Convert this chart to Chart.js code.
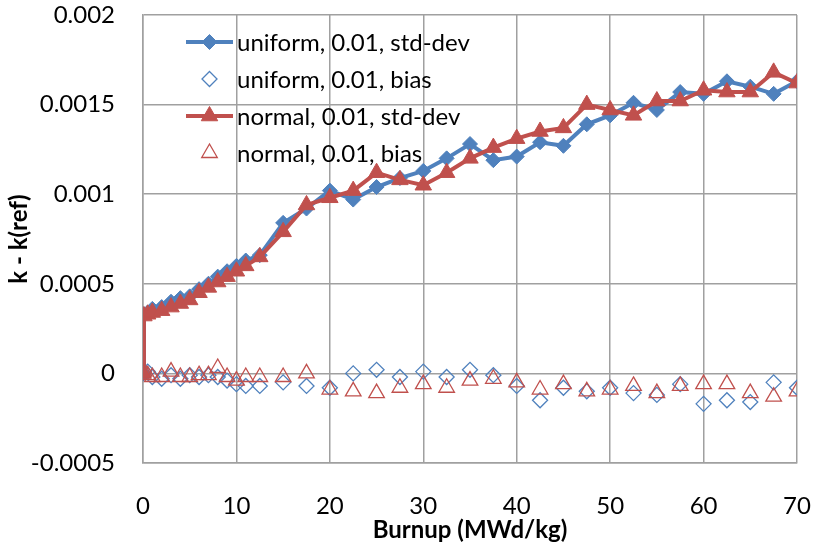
<!DOCTYPE html>
<html lang="en">
<head>
<meta charset="UTF-8" />
<title>k - k(ref) vs Burnup</title>
<script src="https://cdn.jsdelivr.net/npm/chart.js@4.4.1/dist/chart.umd.min.js"></script>
<style>
  html, body { margin: 0; padding: 0; background: #fff; }
  #wrap { width: 813px; height: 554px; }
</style>
</head>
<body>
<div id="wrap"><canvas id="chart" width="813" height="554"></canvas></div>
<script>
  // burnup steps (MWd/kg)
  const burnup = [0, 0.1, 0.5, 1, 2, 3, 4, 5, 6, 7, 8, 9, 10, 11, 12.5, 15, 17.5, 20, 22.5, 25,
    27.5, 30, 32.5, 35, 37.5, 40, 42.5, 45, 47.5, 50, 52.5, 55, 57.5, 60, 62.5, 65, 67.5, 70];

  const uniformStd = [0, 0.00033, 0.00034, 0.00036, 0.00037, 0.0004, 0.00042, 0.00043, 0.00047, 0.0005,
    0.00054, 0.00057, 0.0006, 0.00063, 0.00066, 0.00084, 0.00092, 0.00102, 0.00097, 0.00104,
    0.00109, 0.00113, 0.0012, 0.00128, 0.00119, 0.00121, 0.00129, 0.00127, 0.00139, 0.00144,
    0.00151, 0.00147, 0.00157, 0.00156, 0.00163, 0.0016, 0.00156, 0.00163];
  const uniformBias = [0, 0.00001, 0.00001, -0.00002, -0.00003, -0.00001, -0.00003, -0.00001, -0.00002, -0.00001,
    -0.00002, -0.00004, -0.00006, -0.00007, -0.00007, -0.00005, -0.00007, -0.00008, 0, 0.00002,
    -0.00002, 0.00001, -0.00002, 0.00002, -0.00001, -0.00007, -0.00015, -0.00008, -0.0001, -0.00008,
    -0.00011, -0.00012, -0.00006, -0.00017, -0.00015, -0.00016, -0.00005, -0.00008];
  const normalStd = [0, 0.00032, 0.00033, 0.00034, 0.00035, 0.00037, 0.00039, 0.00041, 0.00045, 0.00048,
    0.00051, 0.00054, 0.00057, 0.0006, 0.00065, 0.00079, 0.00094, 0.00098, 0.00102, 0.00112,
    0.00108, 0.00105, 0.00112, 0.0012, 0.00126, 0.00131, 0.00135, 0.00137, 0.0015, 0.00147,
    0.00144, 0.00152, 0.00152, 0.00158, 0.00157, 0.00157, 0.00168, 0.00162];
  const normalBias = [0, 0.00001, -0.00001, -0.00002, -0.00002, 0.00001, -0.00002, -0.00002, -0.00001, -0.00001,
    0.00003, -0.00002, -0.00004, -0.00002, -0.00002, -0.00002, 0, -0.00009, -0.0001, -0.00011,
    -0.00008, -0.00006, -0.00008, -0.00004, -0.00003, -0.00005, -0.00009, -0.00006, -0.0001, -0.00009,
    -0.00007, -0.00011, -0.00007, -0.00006, -0.00006, -0.00011, -0.00013, -0.0001];

  const seriesLabels = ['uniform, 0.01, std-dev', 'uniform, 0.01, bias', 'normal, 0.01, std-dev', 'normal, 0.01, bias'];

  const BLUE = '#4f81bd';
  const RED = '#c0504d';
  const GRID = '#a0a0a0';
  const FONT = 'Lato, "Open Sans", sans-serif';
  const FSIZE = 24;

  function pts(ys) {
    return burnup.map((x, i) => ({ x: x, y: ys[i] }));
  }

  function markerPath(ctx, style, x, y, r) {
    ctx.beginPath();
    if (style === 'rectRot') {
      ctx.moveTo(x, y - r); ctx.lineTo(x + r, y); ctx.lineTo(x, y + r); ctx.lineTo(x - r, y);
    } else {
      ctx.moveTo(x, y - r); ctx.lineTo(x + r * 0.866, y + r / 2); ctx.lineTo(x - r * 0.866, y + r / 2);
    }
    ctx.closePath();
  }

  // legend sits inside the plot, top-left, no box
  const insideLegend = {
    id: 'insideLegend',
    afterDatasetsDraw(chart) {
      const ctx = chart.ctx;
      const area = chart.chartArea;
      const x0 = area.left + 43;
      ctx.save();
      ctx.font = FSIZE + 'px ' + FONT;
      ctx.textBaseline = 'middle';
      chart.data.datasets.forEach((ds, i) => {
        const y = area.top + 27 + i * 37;
        if (ds.showLine !== false) {
          ctx.strokeStyle = ds.borderColor;
          ctx.lineWidth = ds.borderWidth;
          ctx.beginPath(); ctx.moveTo(x0, y); ctx.lineTo(x0 + 47, y); ctx.stroke();
        }
        markerPath(ctx, ds.pointStyle, x0 + 23.5, y, ds.pointRadius);
        if (ds.pointBackgroundColor !== 'rgba(0,0,0,0)') {
          ctx.fillStyle = ds.pointBackgroundColor; ctx.fill();
        }
        ctx.strokeStyle = ds.pointBorderColor;
        ctx.lineWidth = ds.pointBorderWidth;
        ctx.stroke();
        ctx.fillStyle = '#000';
        ctx.fillText(ds.label, x0 + 51, y + 1);
      });
      ctx.restore();
    }
  };

  new Chart(document.getElementById('chart'), {
    type: 'line',
    data: {
      datasets: [
        {
          label: seriesLabels[0], data: pts(uniformStd), order: 2,
          borderColor: BLUE, borderWidth: 4, tension: 0,
          pointStyle: 'rectRot', pointRadius: 7.5, pointBackgroundColor: BLUE,
          pointBorderColor: BLUE, pointBorderWidth: 1
        },
        {
          label: seriesLabels[1], data: pts(uniformBias), order: 3, showLine: false,
          borderColor: BLUE, pointStyle: 'rectRot', pointRadius: 7.5,
          pointBackgroundColor: 'rgba(0,0,0,0)', pointBorderColor: BLUE, pointBorderWidth: 1.3
        },
        {
          label: seriesLabels[2], data: pts(normalStd), order: 0,
          borderColor: RED, borderWidth: 4, tension: 0,
          pointStyle: 'triangle', pointRadius: 9.5, pointBackgroundColor: RED,
          pointBorderColor: RED, pointBorderWidth: 1
        },
        {
          label: seriesLabels[3], data: pts(normalBias), order: 1, showLine: false,
          borderColor: RED, pointStyle: 'triangle', pointRadius: 9,
          pointBackgroundColor: 'rgba(0,0,0,0)', pointBorderColor: RED, pointBorderWidth: 1.3
        }
      ]
    },
    options: {
      responsive: false,
      animation: false,
      devicePixelRatio: 1,
      layout: { padding: { top: 15, right: 16, left: 0, bottom: 0 } },
      plugins: {
        legend: { display: false },
        tooltip: { enabled: false }
      },
      scales: {
        x: {
          type: 'linear', min: 0, max: 70,
          afterFit(scale) {
            scale.height = 91;
            scale.paddingLeft = 0; scale.paddingRight = 0;
          },
          ticks: { stepSize: 10, padding: 29, color: '#000', font: { family: FONT, size: FSIZE } },
          grid: { color: GRID, lineWidth: 1.5, drawTicks: false },
          border: { color: GRID, width: 1.5 },
          title: {
            display: true, text: 'Burnup (MWd/kg)', color: '#000',
            font: { family: FONT, size: FSIZE, weight: 'bold' }, padding: { top: 0, bottom: 9 }
          }
        },
        y: {
          min: -0.0005, max: 0.002,
          afterFit(scale) {
            scale.width = 143;
            scale.paddingTop = 0; scale.paddingBottom = 0;
          },
          ticks: {
            stepSize: 0.0005, padding: 28, color: '#000', font: { family: FONT, size: FSIZE },
            callback: (v) => String(Number(v.toFixed(4)))
          },
          grid: { color: GRID, lineWidth: 1.5, drawTicks: false },
          border: { color: GRID, width: 1.5 },
          title: {
            display: true, text: 'k - k(ref)', color: '#000',
            font: { family: FONT, size: FSIZE, weight: 'bold' }, padding: { top: 5, bottom: 0 }
          }
        }
      }
    },
    plugins: [insideLegend]
  });
</script>
</body>
</html>
